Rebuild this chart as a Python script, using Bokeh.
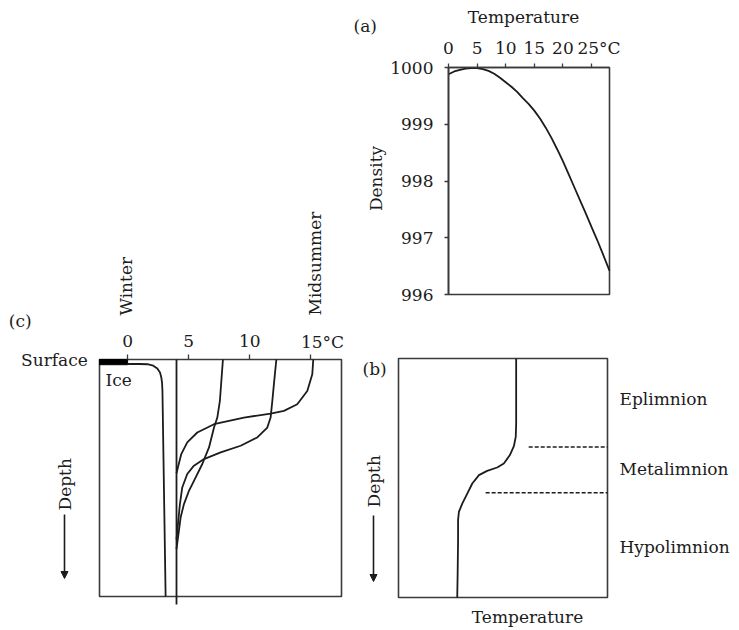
import math
from bokeh.plotting import figure
from bokeh.models import Range1d, FixedTicker, Label, Arrow, NormalHead, LinearAxis
from bokeh.embed import file_html
from bokeh.resources import INLINE

FONT = "DejaVu Serif"
FS = "17px"
INK = "#1c1c1c"
FRAME = "#3a3a3a"

# ---------------- data ----------------
# (a) density of water (kg/m3) against temperature (°C)
a_temp = [0.0, 1.0, 2.0, 3.0, 4.0, 5.0, 6.0, 7.0, 8.0, 9.0, 10.0, 11.0, 12.0, 13.0,
          14.0, 15.0, 16.0, 17.0, 18.0, 19.0, 20.0, 21.0, 22.0, 23.0, 24.0, 25.0,
          26.0, 27.0, 28.15]
a_density = [999.88, 999.93, 999.96, 999.98, 999.99, 999.99, 999.97, 999.94, 999.89,
             999.82, 999.74, 999.66, 999.57, 999.46, 999.36, 999.24, 999.10, 998.94,
             998.76, 998.56, 998.35, 998.12, 997.89, 997.66, 997.43, 997.19, 996.96,
             996.71, 996.42]
a_temp_lim = (0.0, 28.15)
a_density_lim = (996.0, 1000.0)
a_temp_ticks = [0, 5, 10, 15, 20, 25]
a_density_ticks = [996, 997, 998, 999, 1000]
a_unit_tick = "25°C"

# (c) seasonal temperature profiles (°C) against relative depth (0 surface, 100 bottom)
c_temp_lim = (-2.3, 17.5)
depth_lim = (0.0, 100.0)
c_temp_ticks = [0, 5, 10, 15]
c_unit_tick = "15°C"
winter_temp = [0.0, 1.0, 1.62, 2.1, 2.43, 2.65, 2.76, 2.82, 2.85, 3.11]
winter_depth = [1.9, 1.9, 2.0, 2.6, 3.8, 5.5, 7.6, 10.0, 13.2, 100.0]
spring_temp = [7.8, 7.69, 7.55, 7.34, 7.07, 6.66, 6.11, 5.56, 5.02, 4.61, 4.34, 4.2, 4.1, 4.0]
spring_depth = [0.0, 7.6, 17.5, 24.5, 28.7, 37.1, 44.1, 49.8, 55.4, 61.0, 66.6, 72.2, 76.0, 80.0]
early_temp = [12.17, 11.97, 11.84, 11.7, 11.43, 10.61, 9.25, 7.61, 6.25, 5.43, 4.88,
              4.47, 4.28, 4.12, 4.0]
early_depth = [0.0, 10.4, 17.5, 24.5, 28.7, 32.9, 36.4, 39.2, 42.0, 44.8, 48.3,
               54.0, 61.0, 69.4, 76.0]
mid_temp = [15.19, 15.11, 14.7, 13.88, 12.79, 11.7, 9.52, 7.07, 5.7, 4.88, 4.39, 4.15, 4.0]
mid_depth = [0.0, 6.2, 13.3, 18.9, 21.7, 22.8, 24.5, 27.3, 30.8, 35.0, 39.9, 44.8, 48.0]
max_density_temp = 4.0
ice_thickness = 2.2
season_labels = ["Winter", "Midsummer"]
season_label_temps = [0, 15]

# (b) stratified lake: relative temperature against relative depth
b_temp_lim = (0.0, 100.0)
b_temp = [56.3, 56.3, 56.3, 56.1, 55.2, 53.3, 50.4, 47.2, 42.4, 38.5, 35.3, 32.9,
          30.5, 28.9, 28.5, 28.5, 28.3, 28.1]
b_depth = [0.0, 13.2, 27.2, 32.8, 36.7, 40.4, 43.9, 45.6, 47.0, 48.8, 52.3, 56.5,
           60.7, 64.2, 67.6, 76.0, 90.0, 100.0]
boundary_depths = [37.0, 56.2]
boundary_starts = [62.3, 41.7]
layer_names = ["Eplimnion", "Metalimnion", "Hypolimnion"]
layer_depths = [17.0, 46.3, 79.0]

# ---------------- canvas ----------------
W, H = 739, 630
p = figure(width=W, height=H, x_range=Range1d(0, W), y_range=Range1d(H, 0),
           x_axis_location=None, y_axis_location=None, min_border=0,
           output_backend="svg", toolbar_location=None)
p.outline_line_color = None
p.grid.visible = False
p.background_fill_color = "white"
p.border_fill_color = "white"


def add_panel(name, xlim, ylim, box):
    """Give a panel its own scales: xlim/ylim (data) fill the pixel box (l, t, r, b)."""
    l, t, r, b = box
    sx = (xlim[1] - xlim[0]) / (r - l)
    p.extra_x_ranges[name + "x"] = Range1d(xlim[0] - l * sx, xlim[1] + (W - r) * sx)
    sy = (ylim[1] - ylim[0]) / (b - t)       # ylim[0] at top, ylim[1] at bottom
    p.extra_y_ranges[name + "y"] = Range1d(ylim[1] + (H - b) * sy, ylim[0] - t * sy)
    return dict(x_range_name=name + "x", y_range_name=name + "y")


def frame_box(rn, xlim, ylim):
    p.quad(left=[xlim[0]], right=[xlim[1]], bottom=[ylim[0]], top=[ylim[1]],
           fill_color=None, line_color=FRAME, line_width=1.6, **rn)


def style_axis(ax, tick_out, standoff):
    ax.axis_line_color = FRAME
    ax.axis_line_width = 1.6
    ax.major_tick_line_color = FRAME
    ax.major_tick_line_width = 1.3
    ax.major_tick_out = tick_out
    ax.major_tick_in = 0
    ax.minor_tick_line_color = None
    ax.major_label_text_font = FONT
    ax.major_label_text_font_size = FS
    ax.major_label_text_color = INK
    ax.major_label_standoff = standoff


def text(s, x, y, align="left", angle=0.0, dx=0, dy=0, rn=None):
    p.add_layout(Label(x=x, y=y, x_offset=dx, y_offset=dy, text=s, text_align=align,
                       text_baseline="middle", angle=angle, text_font=FONT,
                       text_font_size=FS, text_color=INK, **(rn or {})))


def arrow(x, y0, y1):
    end = NormalHead(size=7, fill_color=INK, line_color=INK, line_width=1)
    p.add_layout(Arrow(end=end, x_start=x, y_start=y0, x_end=x, y_end=y1,
                       line_color=INK, line_width=1.6))


# ---------------- (a) density ----------------
ra = add_panel("a", a_temp_lim, (a_density_lim[1], a_density_lim[0]), (448, 67, 609, 294))
frame_box(ra, a_temp_lim, a_density_lim)
ax_top = LinearAxis(fixed_location=a_density_lim[1], bounds=a_temp_lim,
                    ticker=FixedTicker(ticks=a_temp_ticks),
                    major_label_overrides={a_temp_ticks[-1]: ""}, **ra)
style_axis(ax_top, 4, 10)
p.add_layout(ax_top, "above")
ax_left = LinearAxis(fixed_location=a_temp_lim[0], bounds=a_density_lim,
                     ticker=FixedTicker(ticks=a_density_ticks), **ra)
style_axis(ax_left, 4, 11)
p.add_layout(ax_left, "left")
p.line(a_temp, a_density, line_color=INK, line_width=1.8, **ra)
text(a_unit_tick, a_temp_ticks[-1], a_density_lim[1], dx=-14, dy=20, rn=ra)
text("(a)", 353, 25.5)
text("Temperature", 523, 16, align="center")
text("Density", 375.5, 178, align="center", angle=math.pi / 2)

# ---------------- (c) seasonal profiles ----------------
rc = add_panel("c", c_temp_lim, depth_lim, (99, 359, 341, 596))
frame_box(rc, c_temp_lim, depth_lim)
ax_c = LinearAxis(fixed_location=depth_lim[0], bounds=c_temp_lim,
                  ticker=FixedTicker(ticks=c_temp_ticks),
                  major_label_overrides={c_temp_ticks[-1]: ""}, **rc)
style_axis(ax_c, 5, 8)
ax_c.axis_line_color = None
p.add_layout(ax_c, "above")
p.quad(left=[c_temp_lim[0]], right=[0], top=[depth_lim[0]], bottom=[ice_thickness],
       fill_color="black", line_color="black", **rc)
for t, d in [(winter_temp, winter_depth), (spring_temp, spring_depth),
             (early_temp, early_depth), (mid_temp, mid_depth)]:
    p.line(t, d, line_color=INK, line_width=1.8, **rc)
# 4 °C line of maximum density, drawn a little past the bottom of the box
p.segment(x0=[max_density_temp], y0=[depth_lim[0]], x1=[max_density_temp],
          y1=[depth_lim[1] * 1.034], line_color=INK, line_width=1.8, **rc)
text(c_unit_tick, c_temp_ticks[-1], depth_lim[0], dx=-10, dy=18, rn=rc)
for name, t, dx in zip(season_labels, season_label_temps, [-1.5, 4]):
    text(name, t, depth_lim[0], angle=math.pi / 2, dx=dx, dy=44, rn=rc)
text("(c)", 8.3, 320)
text("Surface", 87.3, 359.3, align="right")
text("Ice", 105, 379.3)
text("Depth", 64, 510, angle=math.pi / 2)
arrow(64, 514, 578)

# ---------------- (b) stratification ----------------
rb = add_panel("b", b_temp_lim, depth_lim, (398, 358, 607, 597))
frame_box(rb, b_temp_lim, depth_lim)
p.line(b_temp, b_depth, line_color=INK, line_width=1.8, **rb)
p.segment(x0=boundary_starts, y0=boundary_depths,
          x1=[b_temp_lim[1]] * len(boundary_depths), y1=boundary_depths,
          line_color=INK, line_width=1.5, line_dash="4 2", **rb)
for name, d in zip(layer_names, layer_depths):
    text(name, b_temp_lim[1], d, dx=12, rn=rb)
text("(b)", 362, 368)
text("Temperature", 527, 616, align="center")
text("Depth", 373, 507, angle=math.pi / 2)
arrow(373, 515, 581)

open("out.html", "w").write(file_html(p, INLINE))
